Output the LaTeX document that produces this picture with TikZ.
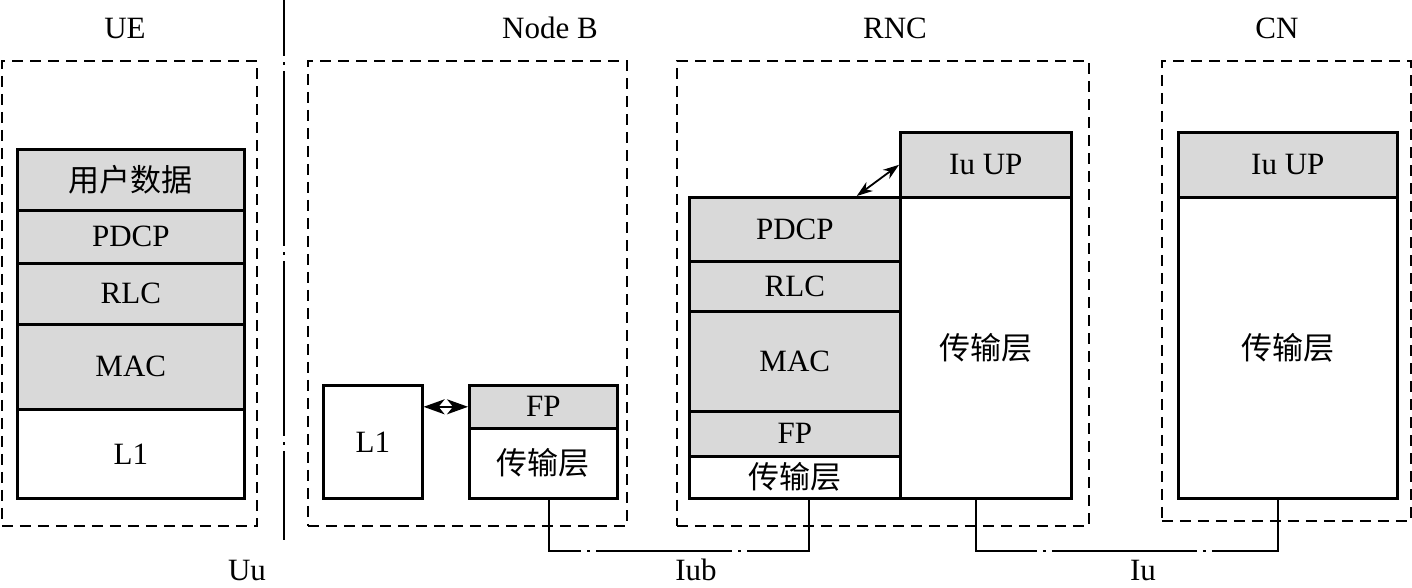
\documentclass[tikz,border=0pt]{standalone}
\usepackage{fontspec}
\setmainfont{Liberation Serif}
\newfontfamily\cjk{Noto Sans CJK SC}
\usetikzlibrary{arrows.meta,calc}
\definecolor{lgray}{RGB}{217,217,217}
\tikzset{
  bigtip/.tip={Stealth[length=21pt,width=15pt,inset=6pt]},
  smalltip/.tip={Stealth[length=16pt,width=11pt,inset=5pt]}
}
\begin{document}
\begin{tikzpicture}[x=1pt,y=-1pt,
  layer/.style={draw=black,line width=2.6pt,anchor=north west,inner sep=0pt,font=\fontsize{31}{31}\selectfont},
  gl/.style={layer,fill=lgray},
  wl/.style={layer,fill=white},
  cont/.style={draw=black,line width=1.8pt,dash pattern=on 11pt off 7pt,anchor=north west,inner sep=0pt},
  title/.style={font=\fontsize{31}{31}\selectfont},
  ddash/.style={draw=black,line width=1.8pt},
  harrow/.style={draw=black,line width=2pt,bigtip-bigtip},
  sarrow/.style={draw=black,line width=1.8pt,smalltip-smalltip}
]
\useasboundingbox (0,0) rectangle (1412,587);

% containers
\node[cont,minimum width=255pt,minimum height=465pt] (ue) at (1,60) {};
\node[cont,minimum width=319pt,minimum height=465pt] (nb) at (307,60) {};
\node[cont,minimum width=412pt,minimum height=465pt] (rnc) at (676,60) {};
\node[cont,minimum width=249pt,minimum height=460pt] (cn) at (1161,60) {};

% titles
\node[title] (tue) at (125,28) {UE};
\node[title] (tnb) at (550,28) {Node B};
\node[title] (trnc) at (895,28) {RNC};
\node[title] (tcn) at (1277,28) {CN};

% UE stack
\node[gl,minimum width=227pt,minimum height=61pt] (ueD) at (16,148) {\cjk 用户数据};
\node[gl,minimum width=227pt,minimum height=53pt] (ueP) at (16,209) {PDCP};
\node[gl,minimum width=227pt,minimum height=61pt] (ueR) at (16,262) {RLC};
\node[gl,minimum width=227pt,minimum height=85pt] (ueM) at (16,323) {MAC};
\node[wl,minimum width=227pt,minimum height=89pt] (ueL) at (16,408) {L1};

% Node B
\node[wl,minimum width=99pt,minimum height=113pt] (nbL1) at (322,384) {L1};
\node[gl,minimum width=148pt,minimum height=43pt] (nbF) at (468,384) {FP};
\node[wl,minimum width=148pt,minimum height=70pt] (nbT) at (468,427) {\cjk 传输层};

% RNC
\node[gl,minimum width=211pt,minimum height=64pt] (rP) at (688,196) {PDCP};
\node[gl,minimum width=211pt,minimum height=50pt] (rR) at (688,260) {RLC};
\node[gl,minimum width=211pt,minimum height=100pt] (rM) at (688,310) {MAC};
\node[gl,minimum width=211pt,minimum height=45pt] (rF) at (688,410) {FP};
\node[wl,minimum width=211pt,minimum height=42pt] (rT) at (688,455) {\cjk 传输层};
\node[gl,minimum width=171pt,minimum height=65pt] (rIu) at (899,131) {Iu UP};
\node[wl,minimum width=171pt,minimum height=301pt] (rT2) at (899,196) {\cjk 传输层};

% CN
\node[gl,minimum width=219pt,minimum height=65pt] (cIu) at (1177,131) {Iu UP};
\node[wl,minimum width=219pt,minimum height=301pt] (cT) at (1177,196) {\cjk 传输层};

% interface labels
\node[title] (luu) at (247,570) {Uu};
\node[title] (liub) at (696,570) {Iub};
\node[title] (liu) at (1143,570) {Iu};

% Uu separation line
\draw[ddash,dash pattern=on 175pt off 6pt on 3pt off 6pt,dash phase=119pt] (284,0) -- (284,540);

% internal arrows
\path[harrow] (nbL1.east |- nbF.west) -- (nbF.west);
\path[sarrow] ($(rP.north west)!0.79!(rP.north east)$) -- (rIu.west);

% interfaces
\draw[ddash,dash pattern=on 136pt off 6pt on 3pt off 6pt,dash phase=53pt]
  ([xshift=6pt]nbT.south) -- ++(0,51) -| ([xshift=14pt]rT.south);
\draw[ddash,dash pattern=on 145pt off 6pt on 3pt off 6pt,dash phase=33pt]
  ([xshift=-10pt]rT2.south) -- ++(0,51) -| ([xshift=-10pt]cT.south);
\end{tikzpicture}
\end{document}
